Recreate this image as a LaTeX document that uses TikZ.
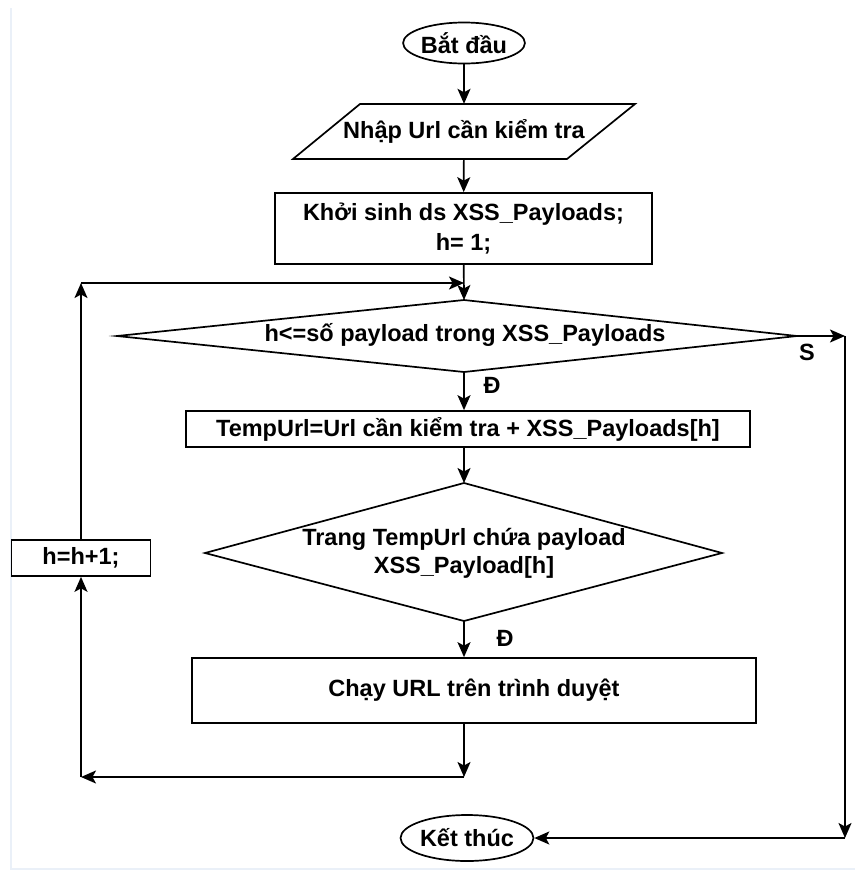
\documentclass[tikz,border=0pt]{standalone}
\usepackage{fontspec}
\setmainfont{Liberation Sans}
\usetikzlibrary{arrows.meta,shapes.geometric,calc}
\begin{document}
\begin{tikzpicture}[x=1pt,y=-1pt,
  every node/.style={font=\fontsize{23.5}{30}\selectfont\bfseries},
  flow/.style={line width=1.7pt, draw=black},
  arr/.style={flow, -{Stealth[length=15pt,width=13pt,inset=3.5pt]}},
  box/.style={draw, line width=1.7pt, rectangle, inner sep=0pt, align=center},
  term/.style={draw, line width=1.7pt, ellipse, inner sep=0pt},
  plain/.style={inner sep=0pt, align=center}]
\useasboundingbox (0,0) rectangle (855,871);

% page frame
\draw[line width=2pt, color={rgb,255:red,234;green,240;blue,248}]
  (11,8) -- (11,869) -- (855,869);

% terminals
\node[term, minimum width=118pt, minimum height=41pt] (start) at (464,43) {Bắt đầu};
\node[term, minimum width=116pt, minimum height=46pt] (end) at (467,838) {Kết thúc};

% input parallelogram
\node[plain, minimum width=200pt, minimum height=55pt] (input) at (464,131.5) {Nhập Url cần kiểm tra};
\draw[flow] (360,104) -- (635,104) -- (567,159) -- (293,159) -- cycle;

% initialisation
\node[box, minimum width=377pt, minimum height=71pt] (init) at (463.5,228.5)
  {Khởi sinh ds XSS\_Payloads;\\h= 1;};

% loop condition
\coordinate (c1top) at (464,300);
\coordinate (c1bot) at (464,372);
\coordinate (c1left) at (117,336);
\coordinate (c1right) at (797,336);
\draw[flow] (c1left) -- (c1top) -- (c1right) -- (c1bot) -- cycle;
\node[plain] (cond1) at (465,335) {h<=số payload trong XSS\_Payloads};

% build test url
\node[box, minimum width=564pt, minimum height=36pt] (temp) at (468,429)
  {TempUrl=Url cần kiểm tra + XSS\_Payloads[h]};

% payload check
\coordinate (c2top) at (464,483);
\coordinate (c2bot) at (464,621);
\coordinate (c2left) at (205,553);
\coordinate (c2right) at (722,553);
\draw[flow] (c2left) -- (c2top) -- (c2right) -- (c2bot) -- cycle;
\node[plain, font=\fontsize{23.5}{28}\selectfont\bfseries] (cond2) at (464,553)
  {Trang TempUrl chứa payload\\XSS\_Payload[h]};

% run in browser
\node[box, minimum width=564pt, minimum height=65pt] (run) at (474,690.5)
  {Chạy URL trên trình duyệt};

% increment
\node[box, minimum width=139pt, minimum height=36pt] (inc) at (81,558) {h=h+1;};

% routing points
\coordinate (jn) at (464,777);
\coordinate (ln) at (81,777);
\coordinate (lt) at (81,283);
\coordinate (lj) at (464,283);
\coordinate (sr) at (845,336);
\coordinate (sb) at (845,838);

% main flow
\draw[arr] (start) -- (input);
\draw[arr] (input) -- (init);
\draw[arr] (init) -- (c1top);
\draw[arr] (c1bot) -- (c1bot |- temp.north);
\draw[arr] (temp.south -| c2top) -- (c2top);
\draw[arr] (c2bot) -- (c2bot |- run.north);
\draw[arr] (run.south -| jn) -- (jn);

% loop back
\draw[arr] (jn) -- (ln);
\draw[arr] (ln) -- (inc);
\draw[arr] (inc) -- (lt);
\draw[arr] (lt) -- (lj);

% exit branch
\draw[arr] (c1right) -- (sr);
\draw[arr] (sr) -- (sb);
\draw[arr] (sb) -- (end);

% branch labels
\node[plain] (yes1) at (492,385) {Đ};
\node[plain] (no1) at (807,352) {S};
\node[plain] (yes2) at (505,638) {Đ};
\end{tikzpicture}
\end{document}
